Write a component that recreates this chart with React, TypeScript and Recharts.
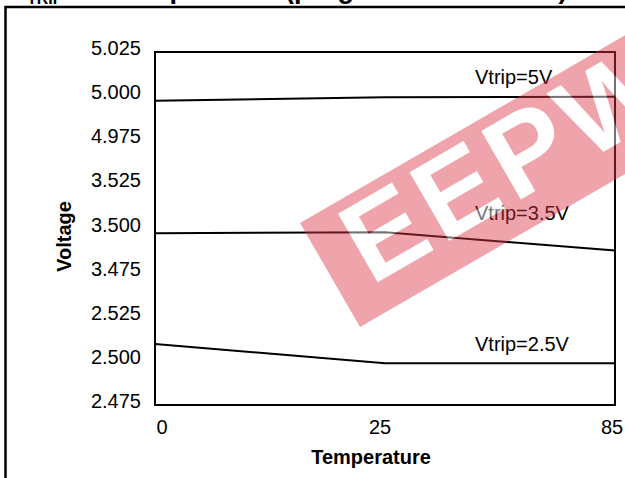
import React from 'react';
import { LineChart, Line, XAxis, YAxis, ReferenceArea, ReferenceDot, Label } from 'recharts';

// Temperatures (categories on the x axis)
const temperatures = [0, 25, 85];
// Trip voltages
const vtrip5V = [4.9974, 4.9993, 4.9996];
const vtrip3_5V = [3.4973, 3.4979, 3.4875];
const vtrip2_5V = [2.5096, 2.4986, 2.4986];
// Broken y axis tick labels (bottom to top)
const yTickLabels = ['2.475', '2.500', '2.525', '3.475', '3.500', '3.525', '4.975', '5.000', '5.025'];
const seriesNames = ['Vtrip=5V', 'Vtrip=3.5V', 'Vtrip=2.5V'];
const labelVoltages = [5.011, 3.509, 2.5096];

const STEP = 0.025;
const sectionBase: Record<string, number> = { v5: 4.975, v35: 3.475, v25: 2.475 };
const sectionOffset: Record<string, number> = { v5: 6, v35: 3, v25: 0 };
const toIndex = (v: number, key: string) => sectionOffset[key] + (v - sectionBase[key]) / STEP;

const data = temperatures.map((t, i) => ({
  t,
  v5: toIndex(vtrip5V[i], 'v5'),
  v35: toIndex(vtrip3_5V[i], 'v35'),
  v25: toIndex(vtrip2_5V[i], 'v25'),
}));

const FONT = '"Liberation Sans", Arial, sans-serif';
const xTickShift = [7, -5, -3];

const YTick = (props: any) => {
  const { x, y, payload } = props;
  return (
    <text x={x} y={y - 4} dy="0.355em" textAnchor="end" fill="#000" fontSize={20} fontFamily={FONT}>
      {yTickLabels[payload.value]}
    </text>
  );
};

const XTick = (props: any) => {
  const { x, y, payload, index } = props;
  return (
    <text x={x + (xTickShift[index] || 0)} y={y} dy="0.71em" textAnchor="middle" fill="#000" fontSize={20} fontFamily={FONT}>
      {String(payload.value)}
    </text>
  );
};

const YTitle = (props: any) => {
  const vb = props.viewBox || { x: 75, y: 52, width: 80, height: 353 };
  const cx = vb.x - 11;
  const cy = vb.y + vb.height / 2 + 8;
  return (
    <text x={cx} y={cy} transform={`rotate(-90 ${cx} ${cy})`} textAnchor="middle" dominantBaseline="central"
      fill="#000" fontSize={20} fontWeight="bold" fontFamily={FONT}>
      Voltage
    </text>
  );
};

const XTitle = (props: any) => {
  const vb = props.viewBox || { x: 155, y: 405, width: 460, height: 40 };
  return (
    <text x={vb.x + vb.width / 2 - 14} y={vb.y + 59} textAnchor="middle" fill="#000" fontSize={20}
      fontWeight="bold" fontFamily={FONT}>
      Temperature
    </text>
  );
};

const seriesKeys = ['v5', 'v35', 'v25'];

export default function App() {
  return (
    <div style={{ position: 'absolute', left: 0, top: 0, width: 625, height: 478, background: '#fff', overflow: 'hidden' }}>
      <LineChart width={625} height={478} data={data} margin={{ top: 52, right: 10, bottom: 33, left: 75 }}>
        <XAxis dataKey="t" type="category" axisLine={false} tickLine={false} tickSize={0} tickMargin={15}
          height={40} tick={<XTick />} interval={0}>
          <Label content={<XTitle />} />
        </XAxis>
        <YAxis type="number" domain={[0, 8]} ticks={[0, 1, 2, 3, 4, 5, 6, 7, 8]} axisLine={false} tickLine={false}
          tickSize={0} tickMargin={14} width={80} tick={<YTick />} interval={0}>
          <Label content={<YTitle />} />
        </YAxis>
        <ReferenceArea x1={0} x2={85} y1={0} y2={8} fill="none" fillOpacity={0} stroke="#000" strokeWidth={2} ifOverflow="visible" />
        {seriesKeys.map((k) => (
          <Line key={k} dataKey={k} type="linear" stroke="#000" strokeWidth={2} dot={false} activeDot={false}
            isAnimationActive={false} />
        ))}
        {seriesKeys.map((k, i) => (
          <ReferenceDot key={'lbl' + k} x={25} y={toIndex(labelVoltages[i], k)} r={1} fill="none" stroke="none"
            label={{ value: seriesNames[i], position: 'right', offset: 89, fill: '#000', fontSize: 20, fontFamily: FONT }} />
        ))}
      </LineChart>
      <svg width={625} height={478} style={{ position: 'absolute', left: 0, top: 0, pointerEvents: 'none' }}>
        <rect x={5.5} y={7} width={700} height={600} fill="none" stroke="#000" strokeWidth={2.5} />
        <text x={9} y={-2.5} fontSize={27} fontWeight="bold" fontFamily={FONT} fill="#000">
          <tspan>V</tspan>
          <tspan dy={6.5} fontSize={16}>TRIP</tspan>
          <tspan dy={-6.5} fontSize={27}> vs. Temperature (programmed at 25°C)</tspan>
        </text>
        <g transform="translate(300 223) rotate(-30)" opacity={0.45}>
          <rect x={0} y={0} width={460} height={120} fill="#dc3545" />
          <text x={30} y={90} fontSize={115} fontWeight="bold" fontFamily={FONT} fill="#fff" letterSpacing={6}>
            EEPW
          </text>
        </g>
      </svg>
    </div>
  );
}
